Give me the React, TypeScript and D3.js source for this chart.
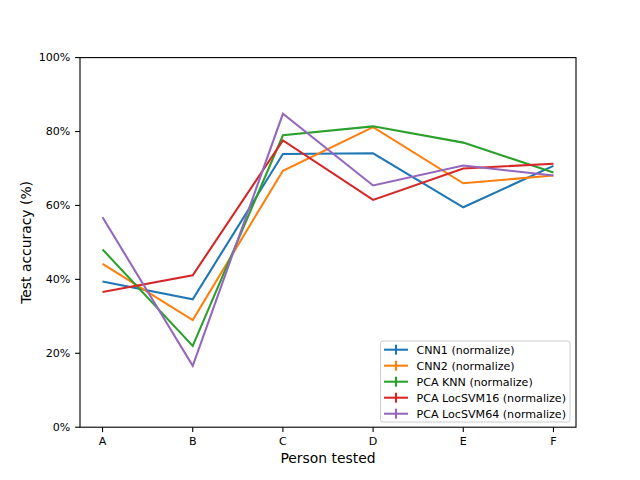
import React from 'react';
import * as d3 from 'd3';

const persons = ['A', 'B', 'C', 'D', 'E', 'F'];
const seriesNames = [
  'CNN1 (normalize)',
  'CNN2 (normalize)',
  'PCA KNN (normalize)',
  'PCA LocSVM16 (normalize)',
  'PCA LocSVM64 (normalize)',
];
const cnn1 = [39.4, 34.6, 73.9, 74.1, 59.5, 70.7];
const cnn2 = [44.2, 29.0, 69.4, 81.2, 66.0, 68.1];
const pcaKnn = [48.1, 22.0, 79.0, 81.4, 77.0, 68.9];
const locSvm16 = [36.6, 41.1, 77.6, 61.5, 70.0, 71.3];
const locSvm64 = [56.8, 16.6, 84.8, 65.4, 70.8, 68.1];
const yTicks = [0, 20, 40, 60, 80, 100];
const colors = ['#1f77b4', '#ff7f0e', '#2ca02c', '#d62728', '#9467bd'];

const allSeries = [cnn1, cnn2, pcaKnn, locSvm16, locSvm64];

const W = 640;
const H = 480;
const margin = { left: 80, right: 64, top: 57.6, bottom: 52.8 };
const font = 'DejaVu Sans, sans-serif';

export default function App() {
  const innerW = W - margin.left - margin.right;
  const innerH = H - margin.top - margin.bottom;

  // matplotlib pads the x range by 5% on each side
  const n = persons.length - 1;
  const x = d3.scaleLinear().domain([-0.05 * n, n + 0.05 * n]).range([0, innerW]);
  const y = d3.scaleLinear().domain([0, 100]).range([innerH, 0]);

  const line = d3.line<number>()
    .x((_, i) => x(i))
    .y(d => y(d));

  const legendX = 380.5 - margin.left;
  const legendY = 341 - margin.top;
  const rowH = 16;

  return (
    <svg width={W} height={H} style={{ display: 'block', margin: -8 }} fontFamily={font}>
      <rect width={W} height={H} fill="#fff" />
      <g transform={`translate(${margin.left},${margin.top})`}>
        {allSeries.map((s, i) => (
          <path key={i} d={line(s) ?? ''} fill="none" stroke={colors[i]} strokeWidth={2.08} />
        ))}

        {/* frame */}
        <rect x={0} y={0} width={innerW} height={innerH} fill="none" stroke="#000" strokeWidth={1.1} />

        {/* y axis */}
        {yTicks.map(t => (
          <g key={t} transform={`translate(0,${y(t)})`}>
            <line x1={-4.9} x2={0} stroke="#000" strokeWidth={1.1} />
            <text x={-9.6} dy="0.35em" textAnchor="end" fontSize={11.1} fill="#000">{`${t}%`}</text>
          </g>
        ))}

        {/* x axis */}
        {persons.map((p, i) => (
          <g key={p} transform={`translate(${x(i)},${innerH})`}>
            <line y1={0} y2={4.9} stroke="#000" strokeWidth={1.1} />
            <text y={17.6} textAnchor="middle" fontSize={11.1} fill="#000">{p}</text>
          </g>
        ))}

        <text x={innerW / 2} y={innerH + 36} textAnchor="middle" fontSize={13.9} fill="#000">Person tested</text>
        <text transform={`translate(${-49},${innerH / 2}) rotate(-90)`} textAnchor="middle" fontSize={13.9} fill="#000">Test accuracy (%)</text>

        {/* legend */}
        <g transform={`translate(${legendX},${legendY})`}>
          <rect x={0} y={0} width={189.5} height={81} rx={2.5} fill="#fff" fillOpacity={0.8} stroke="#ccc" strokeWidth={1} />
          {seriesNames.map((name, i) => {
            const cy = 8.7 + i * rowH;
            return (
              <g key={name} transform={`translate(0,${cy})`}>
                <line x1={3.5} x2={27.5} stroke={colors[i]} strokeWidth={2.08} />
                <line x1={15.5} x2={15.5} y1={-5} y2={5} stroke={colors[i]} strokeWidth={2.08} />
                <text x={36} dy="0.35em" fontSize={11.1} fill="#000">{name}</text>
              </g>
            );
          })}
        </g>
      </g>
    </svg>
  );
}
